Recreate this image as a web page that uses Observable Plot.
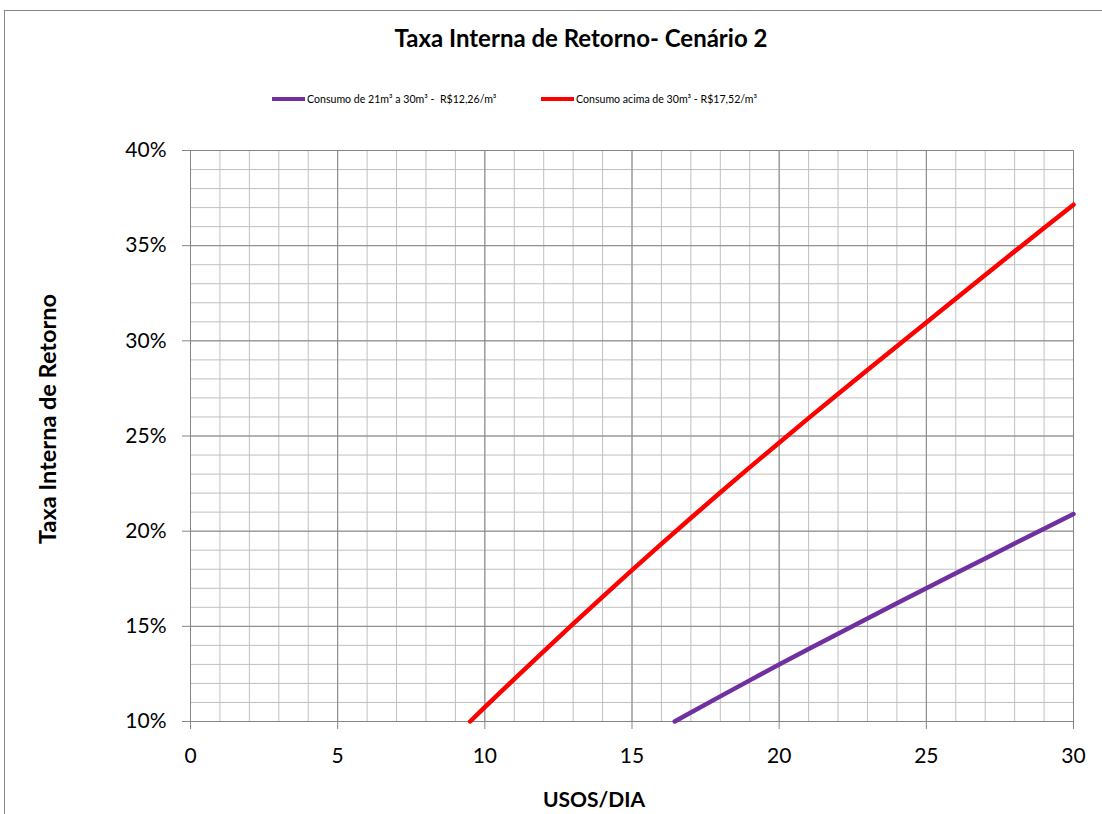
<!DOCTYPE html>
<html>
<head>
<meta charset="utf-8">
<script src="https://cdn.jsdelivr.net/npm/d3@7"></script>
<script src="https://cdn.jsdelivr.net/npm/@observablehq/plot@0.6"></script>
<style>
  html, body { margin: 0; padding: 0; background: #fff; }
  #wrap { position: relative; width: 1102px; height: 814px; overflow: hidden; font-family: Lato, "Open Sans", sans-serif; }
  #frame { position: absolute; left: 4px; top: 10px; width: 1200px; height: 900px; border: 1px solid #878787; box-sizing: border-box; }
  #title { position: absolute; left: 0; top: 27px; width: 1162px; text-align: center; font-weight: bold; font-size: 24px; line-height: 22px; color: #000; }
  .leg { position: absolute; top: 92px; height: 14px; display: flex; align-items: center; font-size: 10.6px; line-height: 14px; color: #000; white-space: pre; }
  .sw { display: inline-block; width: 33px; height: 4px; margin-right: 2px; }
  #chart { position: absolute; left: 0; top: 120px; }
</style>
</head>
<body>
<div id="wrap">
  <div id="frame"></div>
  <div id="title"></div>
  <div id="legend"></div>
  <div id="chart"></div>
</div>
<script>
// ---- data ----
const chartTitle = "Taxa Interna de Retorno- Cenário 2";
const seriesNames = ["Consumo de 21m³ a 30m³ -  R$12,26/m³", "Consumo acima de 30m³ - R$17,52/m³"];
const seriesColors = ["#7030A0", "#FF0000"];

const usosA = [16.45, 17, 18, 19, 20, 21, 22, 23, 24, 25, 26, 27, 28, 29, 30];
const tirA  = [10.0, 10.47, 11.32, 12.16, 13.0, 13.81, 14.61, 15.41, 16.21, 17.0, 17.79, 18.57, 19.35, 20.13, 20.9];

const usosB = [9.5, 10, 11, 12, 13, 14, 15, 16, 17, 18, 19, 20, 21, 22, 23, 24, 25, 26, 27, 28, 29, 30];
const tirB  = [10.0, 10.75, 12.23, 13.69, 15.13, 16.55, 17.95, 19.33, 20.69, 22.03, 23.35, 24.65, 25.94, 27.21, 28.47, 29.72, 30.96, 32.21, 33.46, 34.70, 35.93, 37.15];

const xTicks = [0, 5, 10, 15, 20, 25, 30];
const yTicks = [10, 15, 20, 25, 30, 35, 40];
const xMinor = d3.range(0, 31, 1);
const yMinor = d3.range(10, 41, 1);
const xLabel = "USOS/DIA";
const yLabel = "Taxa Interna de Retorno";

// ---- build ----
document.getElementById("title").textContent = chartTitle;

const legend = document.getElementById("legend");
const legLefts = [272, 541];
seriesNames.forEach((n, i) => {
  const item = document.createElement("div");
  item.className = "leg";
  item.style.left = legLefts[i] + "px";
  const sw = document.createElement("span");
  sw.className = "sw";
  sw.style.background = seriesColors[i];
  item.appendChild(sw);
  item.appendChild(document.createTextNode(n));
  legend.appendChild(item);
});

const dataA = usosA.map((x, i) => ({x, y: tirA[i]}));
const dataB = usosB.map((x, i) => ({x, y: tirB[i]}));

const plot = Plot.plot({
  width: 1102,
  height: 694,
  marginTop: 30,
  marginBottom: 93,
  marginLeft: 190,
  marginRight: 29,
  x: {domain: [0, 30]},
  y: {domain: [10, 40]},
  style: {fontFamily: "Lato, 'Open Sans', sans-serif", fontSize: "21px", color: "#000", background: "transparent", overflow: "visible"},
  marks: [
    Plot.ruleX(xMinor, {stroke: "#c0c0c0", strokeWidth: 1}),
    Plot.ruleY(yMinor, {stroke: "#c0c0c0", strokeWidth: 1}),
    Plot.ruleX(xTicks, {stroke: "#868686", strokeWidth: 1}),
    Plot.ruleY(yTicks, {stroke: "#868686", strokeWidth: 1}),
    Plot.axisX({ticks: xTicks, tickSize: 8, tickPadding: 19, stroke: "#868686", label: null, tickFormat: d => String(d)}),
    Plot.axisY({ticks: yTicks, tickSize: 8, tickPadding: 16, stroke: "#868686", label: null, tickFormat: d => d + "%"}),
    Plot.line(dataA, {x: "x", y: "y", stroke: seriesColors[0], strokeWidth: 4.5, strokeLinecap: "round", strokeLinejoin: "round"}),
    Plot.line(dataB, {x: "x", y: "y", stroke: seriesColors[1], strokeWidth: 4.5, strokeLinecap: "round", strokeLinejoin: "round"}),
    Plot.text([xLabel], {frameAnchor: "bottom", text: d => d, textAnchor: "middle", dx: -38, dy: 79, fontWeight: "bold", fontSize: 21, lineAnchor: "middle", fill: "#000"}),
    Plot.text([yLabel], {frameAnchor: "left", text: d => d, textAnchor: "middle", rotate: -90, dx: -142, dy: -17, fontWeight: "bold", fontSize: 23.5, lineAnchor: "middle", fill: "#000"})
  ]
});
document.getElementById("chart").appendChild(plot);
</script>
</body>
</html>
